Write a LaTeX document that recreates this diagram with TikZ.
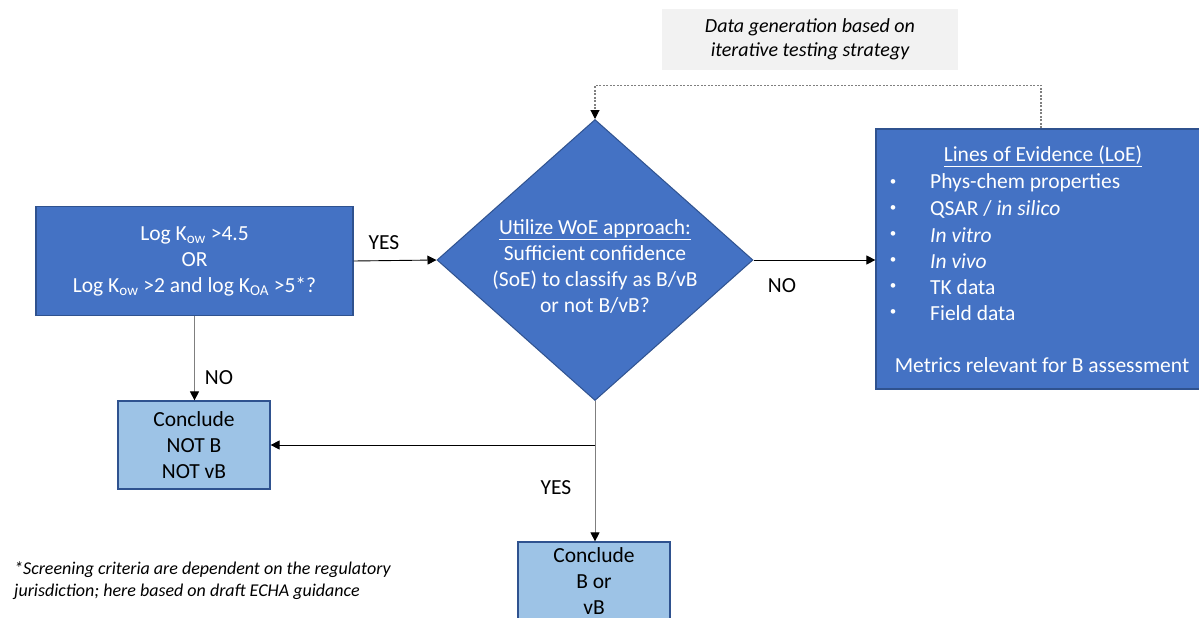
\documentclass[tikz,border=0pt]{standalone}
\usepackage{fontspec}
\setmainfont{Carlito}
\usetikzlibrary{shapes.geometric,arrows.meta}
\definecolor{darkblue}{HTML}{4472C4}
\definecolor{edgeblue}{HTML}{2F528F}
\definecolor{lightblue}{HTML}{9DC3E6}
\definecolor{greybg}{HTML}{F2F2F2}
\definecolor{lineg}{HTML}{7F7F7F}
\tikzset{
  darkbox/.style={draw=edgeblue,fill=darkblue,line width=1.2pt,text=white,inner sep=0pt,align=center},
  lightbox/.style={draw=edgeblue,fill=lightblue,line width=1.2pt,inner sep=0pt,align=center},
  decision/.style={diamond,draw=edgeblue,fill=darkblue,line width=1pt,inner sep=0pt,minimum width=316pt,minimum height=281pt},
  arr/.style={-{Triangle[length=9pt,width=9pt,color=black]},line width=0.9pt},
  dotline/.style={arr,draw=lineg,dash pattern=on 2pt off 1.5pt,line width=1.1pt}
}

\begin{document}
\begin{tikzpicture}[x=1pt,y=-1pt,font=\fontsize{21.5}{26}\selectfont]
    \useasboundingbox (0,0) rectangle (1199,618);
    % boxes
    \node[darkbox,minimum width=317pt,minimum height=109pt] (screen) at (194.5,261)
        {Log K\textsubscript{ow} >4.5\\OR\\Log K\textsubscript{ow} >2 and log K\textsubscript{OA} >5*?};
    \node[decision] (woe) at (595,260) {};
    \node[text=white,align=center] (woetxt) at (595,266)
        {\underline{Utilize WoE approach:}\\Sufficient confidence\\(SoE) to classify as B/vB\\or not B/vB?};
    \node[darkbox,minimum width=330pt,minimum height=260pt] (loe) at (1041,259) {};
    \node[text=white] (loehead) at (1043,156) {\underline{Lines of Evidence (LoE)}};
    \foreach \txt [count=\i] in {Phys-chem properties,QSAR / \textit{in silico},\textit{In vitro},\textit{In vivo},TK data,Field data}{
        \node[text=white,font=\fontsize{13}{13}\selectfont] (dot\i) at (893,157+26*\i) {\textbullet};
        \node[text=white,anchor=west,inner sep=0pt] (item\i) at (930,157+26*\i) {\txt};
    }
    \node[text=white] (metrics) at (1042,365) {Metrics relevant for B assessment};
    \node[fill=greybg,minimum width=296pt,minimum height=61pt,align=center,font=\fontsize{20}{24}\selectfont\itshape] (iter) at (810,39.5)
        {Data generation based on\\iterative testing strategy};
    \node[lightbox,minimum width=152pt,minimum height=88pt] (notb) at (194,445) {Conclude\\NOT B\\NOT vB};
    \node[lightbox,minimum width=152pt,minimum height=78pt] (isb) at (594,581) {Conclude\\B or\\vB};
    \node[anchor=north west,align=left,inner sep=0pt,font=\fontsize{18}{22}\selectfont\itshape] (note) at (14,562)
        {*Screening criteria are dependent on the regulatory\\jurisdiction; here based on draft ECHA guidance};
    % connectors
    \draw[arr,draw=lineg] (screen.south) -- (screen.south |- notb.north);
    \draw[arr] (screen.east) -- (woe.west);
    \draw[arr] (woe.east) -- (woe.east -| loe.west);
    \draw[arr,draw=lineg] (woe.south) -- (woe.south |- isb.north);
    \coordinate (split) at (woe.south |- notb.east);
    \draw[arr] (split) -- (notb.east);
    \draw[dotline] (loe.north) -- ++(0,-43) -| (woe.north);
    % labels
    \node (yes1) at (384,243) {YES};
    \node (no1) at (219,378) {NO};
    \node (no2) at (782,286) {NO};
    \node (yes2) at (556,488) {YES};
\end{tikzpicture}
\end{document}
